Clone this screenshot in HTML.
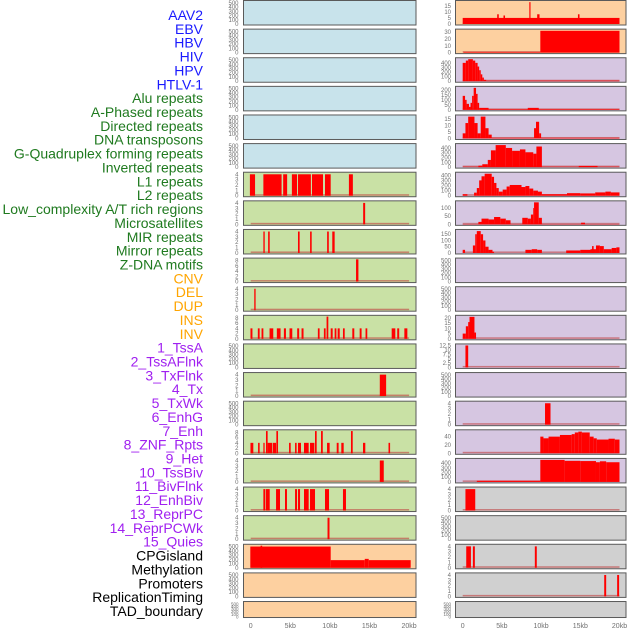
<!DOCTYPE html>
<html><head><meta charset="utf-8"><style>
body{margin:0;background:#fff;width:630px;height:630px;overflow:hidden}
svg{display:block}
text{font-family:"Liberation Sans",sans-serif}
</style></head><body>
<svg id="chart" width="630" height="630" viewBox="0 0 630 630" xmlns="http://www.w3.org/2000/svg"></svg>
<script>
// ---- data ----
const trackLabels = ["AAV2","EBV","HBV","HIV","HPV","HTLV-1","Alu repeats","A-Phased repeats","Directed repeats","DNA transposons","G-Quadruplex forming repeats","Inverted repeats","L1 repeats","L2 repeats","Low_complexity A/T rich regions","Microsatellites","MIR repeats","Mirror repeats","Z-DNA motifs","CNV","DEL","DUP","INS","INV","1_TssA","2_TssAFlnk","3_TxFlnk","4_Tx","5_TxWk","6_EnhG","7_Enh","8_ZNF_Rpts","9_Het","10_TssBiv","11_BivFlnk","12_EnhBiv","13_ReprPC","14_ReprPCWk","15_Quies","CPGisland","Methylation","Promoters","ReplicationTiming","TAD_boundary"];
const labelGroups = ["v","v","v","v","v","v","r","r","r","r","r","r","r","r","r","r","r","r","r","s","s","s","s","s","c","c","c","c","c","c","c","c","c","c","c","c","c","c","c","k","k","k","k","k"];
const xTickValues = [0,5,10,15,20];
const xTickLabels = ["0","5kb","10kb","15kb","20kb"];
const ticks500 = [0,100,200,300,400,500];
const ticks4 = [0,1,2,3,4];
const ticks8 = [0,2,4,6,8];
// segments: [startKb, endKb, value]
const R0 = [[0,20,5],[4.4,4.6,8],[5.2,5.4,7],[8.5,8.65,18],[9.5,9.8,8],[14.7,14.9,8]];
const R1 = [[0.1,9.9,1],[9.9,20,32]];
const R2 = [[0,0.4,400],[0.4,0.7,450],[0.7,1.3,480],[1.3,1.6,450],[1.6,1.9,400],[1.9,2.1,320],[2.1,2.3,240],[2.3,2.5,150],[2.5,2.7,80],[2.7,3.0,30],[3.0,20,12]];
const R3 = [[0,0.3,140],[0.3,0.5,100],[0.5,0.8,60],[0.8,1.0,30],[1.0,1.2,70],[1.2,1.4,140],[1.4,1.7,220],[1.7,1.9,160],[1.9,2.1,70],[2.1,3.3,20],[3.3,20,6],[8.3,9.7,20]];
const R4 = [[0,0.35,4],[0.35,0.7,12],[0.7,1.5,17],[1.5,1.9,12],[1.9,2.3,4],[2.3,2.9,17],[2.9,3.3,8],[3.3,3.7,3],[3.7,20,0.5],[9.1,9.35,8],[9.35,9.75,13],[9.75,10,4]];
const R5 = [[0,20,8],[2.0,2.5,30],[2.5,3.2,60],[3.2,3.6,150],[3.6,4.2,350],[4.2,5.5,460],[5.5,6.3,400],[6.3,7.3,340],[7.3,8.0,370],[8.0,9.0,310],[9.0,9.4,280],[9.4,10.1,430],[14.8,17.2,25]];
const L6 = [[-0.1,0.55,4],[1.6,3.9,4],[4.1,4.6,4],[5.2,5.85,4],[5.97,7.6,4],[7.74,9.13,4],[9.38,10.1,4],[12.4,12.9,4]];
const R6 = [[0,0.6,30],[1.45,1.8,60],[1.8,2.1,150],[2.1,2.4,300],[2.4,2.8,380],[2.8,3.7,430],[3.7,4.0,370],[4.0,4.3,250],[4.3,4.6,150],[4.6,5.1,80],[5.1,5.6,120],[5.6,6.0,180],[6.0,7.5,210],[7.5,8.0,170],[8.0,8.5,190],[8.5,9.0,140],[9.0,9.6,100],[9.6,10.1,80],[10.1,13.3,30],[13.3,15.0,50],[15.0,16.9,45],[16.9,18.2,65],[18.2,18.9,80],[18.9,20,65]];
const L7 = [[14.2,14.45,4]];
const R7 = [[0,20,2],[2.0,2.4,15],[2.4,3.3,35],[3.3,4.0,30],[4.0,4.8,45],[4.8,5.5,35],[5.5,6.1,25],[7.6,8.3,40],[8.3,8.7,35],[8.7,9.0,60],[9.0,9.1,100],[9.1,9.7,135],[9.7,10.1,40],[15.1,15.6,10]];
const L8 = [[1.6,1.77,4],[2.2,2.4,4],[5.97,6.18,4],[7.5,7.7,4],[9.65,9.86,4],[10.3,10.6,4]];
const R8 = [[0,0.3,25],[1.3,1.6,60],[1.6,1.8,150],[1.8,2.3,175],[2.3,2.6,150],[2.6,2.9,100],[2.9,3.3,50],[3.3,3.8,25],[3.8,4.0,10],[8.0,8.8,25],[8.8,9.5,30],[9.5,10.1,25],[13.2,15,20],[15,16.3,25],[16.3,17.0,30],[16.5,16.7,55],[17.0,17.5,60],[17.5,18.0,55],[18.0,19.0,30],[19.0,19.6,40],[19.6,20,45]];
const L9 = [[13.3,13.6,8.5]];
const L10 = [[0.45,0.62,4]];
const L11 = [[-0.03,0.22,4],[0.9,1.13,4],[1.37,1.6,4],[2.38,2.85,4],[3.3,3.77,4],[4.19,4.45,4],[4.9,5.25,4],[5.87,6.12,4],[6.42,6.67,4],[8.48,8.7,4],[9.24,9.46,4],[9.58,9.8,8.5],[10.1,10.35,4],[10.6,10.82,4],[10.98,11.24,4],[11.65,11.87,4],[12.83,13.08,4],[13.76,14.0,4],[14.5,14.72,4],[17.8,18.26,4],[18.5,18.75,4],[19.4,19.78,4]];
const R11 = [[0,0.4,5],[0.4,0.7,12],[0.7,0.87,16],[0.87,1.5,21],[1.5,1.7,6]];
const R12 = [[0.35,0.7,12.5]];
const L13 = [[16.3,17.1,4]];
const R14 = [[10.5,11.2,4]];
const L15 = [[-0.03,0.33,4],[0.93,1.13,4],[1.6,1.76,4],[1.93,2.14,8.5],[2.14,2.7,4],[2.78,3.2,4],[3.24,3.45,8.5],[4.84,5.05,4],[5.6,5.8,4],[5.97,6.35,4],[6.73,7.32,4],[7.49,8.04,4],[8.12,8.33,8.5],[8.88,9.1,8.5],[9.64,9.97,4],[10.86,11.1,4],[11.44,11.74,4],[12.66,12.88,8.5],[14.18,14.47,4],[17.4,17.6,4]];
const R15 = [[9.9,10.3,40],[10.3,10.95,36],[10.95,12.4,40],[12.4,13.9,44],[13.9,14.3,46],[14.3,14.75,50],[14.75,15.2,52],[15.2,16.2,50],[16.2,16.7,40],[16.7,17.1,36],[17.1,18.6,33],[18.6,19.4,35],[19.4,20,33]];
const L16 = [[16.3,16.8,4]];
const R16 = [[1.8,9.9,25],[9.9,13.0,470],[13.0,15.0,450],[15.0,17.0,445],[17.0,17.5,420],[17.5,18.3,440],[18.3,20,420]];
const L17 = [[1.6,1.85,4],[1.93,2.4,4],[3.2,3.7,4],[4.33,4.58,4],[5.6,5.85,4],[5.97,6.23,4],[6.73,7.32,4],[7.49,8.12,4],[9.38,9.89,4],[11.65,12.03,4]];
const R17 = [[0.35,1.6,4]];
const L18 = [[9.7,9.95,4]];
const L19 = [[-0.05,10.1,500],[1.25,1.45,520],[10.1,14.4,180],[14.4,14.9,210],[14.9,20.2,180]];
const R19 = [[0.45,1.05,4],[1.3,1.55,4],[9.2,9.45,4]];
const R20 = [[18.05,18.3,4],[19.7,19.95,4]];

// ---- layout ----
const BG = {blue:"#c8e3eb",green:"#c9e1a5",orange:"#fdd0a0",purple:"#d6c6e1",grey:"#d0d0d0"};
function P(bg,ticks,max,data){return {bg:bg,ticks:ticks,max:max,data:data};}
const rows = [
 [P("blue",ticks500,530,null),P("orange",[0,5,10,15],18.5,R0)],
 [P("blue",ticks500,530,null),P("orange",[0,10,20,30],33,R1)],
 [P("blue",ticks500,530,null),P("purple",[0,100,200,300,400],490,R2)],
 [P("blue",ticks500,530,null),P("purple",[0,50,100,150,200],225,R3)],
 [P("blue",ticks500,530,null),P("purple",[0,5,10,15],17.5,R4)],
 [P("blue",ticks500,530,null),P("purple",[0,100,200,300,400],470,R5)],
 [P("green",ticks4,4.2,L6),P("purple",[0,100,200,300,400],440,R6)],
 [P("green",ticks4,4.2,L7),P("purple",[0,50,100],138,R7)],
 [P("green",ticks4,4.2,L8),P("purple",[0,50,100,150],180,R8)],
 [P("green",ticks8,8.6,L9),P("purple",ticks500,530,null)],
 [P("green",ticks4,4.2,L10),P("purple",ticks500,530,null)],
 [P("green",ticks8,8.6,L11),P("purple",[0,5,10,15,20],21.5,R11)],
 [P("green",ticks500,530,null),P("purple",[0,2.5,5,7.5,10,12.5],12.8,R12)],
 [P("green",ticks4,4.2,L13),P("purple",ticks500,530,null)],
 [P("green",ticks500,530,null),P("purple",ticks4,4.2,R14)],
 [P("green",ticks8,8.6,L15),P("purple",[0,20,40],54,R15)],
 [P("green",ticks4,4.2,L16),P("purple",[0,100,200,300,400],480,R16)],
 [P("green",ticks4,4.2,L17),P("grey",ticks4,4.2,R17)],
 [P("green",ticks4,4.2,L18),P("grey",ticks500,530,null)],
 [P("orange",ticks500,530,L19),P("grey",ticks4,4.2,R19)],
 [P("orange",ticks500,530,null),P("grey",ticks4,4.2,R20)],
 [P("orange",ticks500,530,null),P("grey",ticks500,530,null)]
];
const cols = [{x0:243.5,x1:416,z:250.7,k:7.92,tx:238.5},{x0:455.5,x1:626,z:462.7,k:7.84,tx:451}];
const NS="http://www.w3.org/2000/svg";
const svg=document.getElementById("chart");
function mk(tag,attrs,parent){const e=document.createElementNS(NS,tag);for(const a in attrs)e.setAttribute(a,attrs[a]);(parent||svg).appendChild(e);return e;}
function xScale(c,kb){return c.z+kb*c.k;}

// labels
const colorMap={v:"#1a1aff",r:"#1f7a1f",s:"#ffa500",c:"#a020f0",k:"#000"};
trackLabels.forEach(function(t,i){
  const e=mk("text",{x:203,y:15+i*13.86+5,"text-anchor":"end","font-size":"14",fill:colorMap[labelGroups[i]]});
  e.textContent=t;
  
  
});

rows.forEach(function(row,ri){
  const top=ri*28.62;
  const h=(ri===21)?16:24.5;
  row.forEach(function(p,ci){
    const c=cols[ci];
    const g=mk("g",{});
    
    
    mk("rect",{x:c.x0,y:top+0.5,width:c.x1-c.x0,height:h,fill:BG[p.bg],stroke:"#5a5a5a","stroke-width":"1"},g);
    const yb=top+h-0.5, yt=top+1.5;
    function yScale(v){return yb-(v/p.max)*(yb-yt);}
    p.ticks.forEach(function(tv){
      const te=mk("text",{x:c.tx,y:yScale(tv)+2,"text-anchor":"end","font-size":(h<20?"4.5":"6"),fill:"#707070"},g);
      te.textContent=String(tv);
    });
    if(p.data){
      mk("rect",{x:xScale(c,0),y:yb-1.5,width:20*c.k,height:1.5,fill:"#c04040","fill-opacity":"0.6"},g);
      p.data.forEach(function(d){
        const r=mk("rect",{x:xScale(c,d[0]),y:yScale(d[2]),width:Math.max(0.8,(d[1]-d[0])*c.k),height:yb-yScale(d[2]),fill:"#ff0000"},g);
        
        
      });
    }
  });
});

// x axis labels
cols.forEach(function(c,ci){
  xTickValues.forEach(function(v,i){
    const e=mk("text",{x:xScale(c,v),y:628,"text-anchor":"middle","font-size":"7",fill:"#707070"});
    e.textContent=xTickLabels[i];
    
    
  });
});
</script>
</body></html>
